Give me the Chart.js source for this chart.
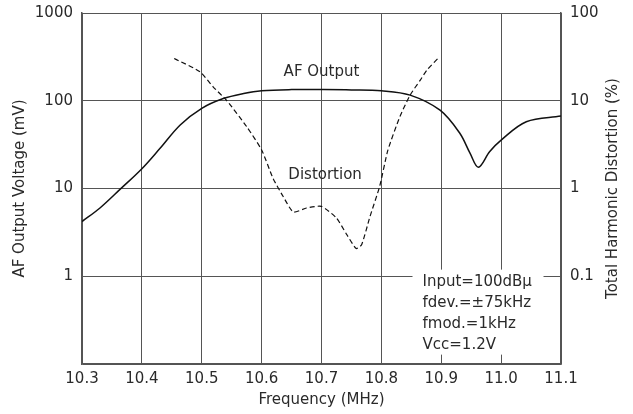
<!DOCTYPE html>
<html>
<head>
<meta charset="utf-8">
<script src="https://cdn.jsdelivr.net/npm/chart.js@4/dist/chart.umd.min.js"></script>
<style>
  html, body { margin: 0; padding: 0; background: #fff; }
  #wrap { width: 633px; height: 414px; }
</style>
</head>
<body>
<div id="wrap"><canvas id="chart" width="633" height="414"></canvas></div>
<script>
// AF output voltage (mV), left axis
const afFreq    = [10.30, 10.33, 10.363, 10.40, 10.43, 10.464, 10.50, 10.536, 10.57, 10.60, 10.65, 10.70, 10.75, 10.80, 10.848, 10.898, 10.931, 10.948, 10.962, 10.981, 11.00, 11.042, 11.10];
const afVoltage = [4.2,   6.0,   9.7,    16.8,  28.5,  53,     82,    106,    121,   130,   134,   134,   133,   130,   116,    78,     42.6,   25.3,   17.5,   26.4,   35.6,  57.7,   66.9];

// total harmonic distortion (%), right axis
const thdFreq    = [10.454, 10.497, 10.519, 10.542, 10.575, 10.600, 10.619, 10.636, 10.653, 10.675, 10.700, 10.725, 10.742, 10.758, 10.767, 10.781, 10.797, 10.811, 10.831, 10.848, 10.865, 10.876, 10.896];
const thdPercent = [30.3,   21.4,   14.4,   10,     5.07,   2.75,   1.31,   0.81,   0.54,   0.6,    0.625,  0.46,   0.30,   0.207,  0.229,  0.48,   1.05,   2.75,   6.6,    11.6,   17.2,   22.3,   31.1];

// tick values
const freqTicks  = [10.3, 10.4, 10.5, 10.6, 10.7, 10.8, 10.9, 11.0, 11.1];
const voltTicks  = [0.1, 1, 10, 100, 1000];
const voltLabels = ['', '1', '10', '100', '1000'];
const thdTicks   = [0.01, 0.1, 1, 10, 100];
const thdLabels  = ['', '0.1', '1', '10', '100'];

const conditions = ['Input=100dBμ', 'fdev.=±75kHz', 'fmod.=1kHz', 'Vcc=1.2V'];

const FONT = '"DejaVu Sans", sans-serif';
const TEXT = '#2a2a2a';
const GRID = '#555';

// keep the plot box where the original has it (labels may overhang)
function fixPadding(scale){
    scale.paddingTop = 0;
    scale.paddingBottom = 0;
}

// extra texts: curve labels, condition box, axis titles
const notesPlugin = {
    id: 'notes',
    afterDraw(chart){
        const ctx = chart.ctx;
        const area = chart.chartArea;
        const x = chart.scales.x;
        const yl = chart.scales.yl;
        ctx.save();
        ctx.fillStyle = TEXT;
        ctx.font = '15px ' + FONT;
        ctx.textAlign = 'center';
        ctx.textBaseline = 'middle';
        ctx.fillText('AF Output', x.getPixelForValue(10.700), yl.getPixelForValue(214));
        ctx.fillText('Distortion', x.getPixelForValue(10.706), yl.getPixelForValue(14.3));
        ctx.fillText('Frequency (MHz)', (area.left + area.right) / 2, 400);

        // condition box (white, hides grid lines)
        const bx = x.getPixelForValue(10.852);
        const by = yl.getPixelForValue(1.19);
        ctx.fillStyle = '#fff';
        ctx.fillRect(bx, by, 131, 85);
        ctx.fillStyle = TEXT;
        ctx.textAlign = 'left';
        conditions.forEach((line, i) => {
            ctx.fillText(line, bx + 10, by + 12 + i * 21);
        });

        // both y titles read bottom to top
        const midY = (area.top + area.bottom) / 2;
        ctx.textAlign = 'center';
        [[20, 'AF Output Voltage (mV)'], [613, 'Total Harmonic Distortion (%)']].forEach(([tx, t]) => {
            ctx.save();
            ctx.translate(tx, midY);
            ctx.rotate(-Math.PI / 2);
            ctx.fillText(t, 0, 0);
            ctx.restore();
        });
        ctx.restore();
    }
};

new Chart(document.getElementById('chart'), {
    type: 'line',
    data: {
        datasets: [{
            label: 'AF Output',
            data: afFreq.map((f, i) => ({ x: f, y: afVoltage[i] })),
            yAxisID: 'yl',
            borderColor: '#111',
            borderWidth: 1.5,
            pointRadius: 0,
            tension: 0.35,
            fill: false
        }, {
            label: 'Distortion',
            data: thdFreq.map((f, i) => ({ x: f, y: thdPercent[i] })),
            yAxisID: 'yr',
            borderColor: '#111',
            borderWidth: 1.2,
            borderDash: [5, 3],
            pointRadius: 0,
            tension: 0.2,
            fill: false
        }]
    },
    options: {
        responsive: false,
        animation: false,
        layout: { padding: { top: 13, left: 0, right: 0, bottom: 0 } },
        plugins: {
            legend: { display: false },
            tooltip: { enabled: false }
        },
        scales: {
            x: {
                type: 'linear',
                min: 10.3,
                max: 11.1,
                afterBuildTicks: (scale) => { scale.ticks = freqTicks.map(v => ({ value: v })); },
                afterFit: (scale) => { scale.height = 50; },
                grid: { color: GRID, lineWidth: 1, drawTicks: false },
                border: { color: GRID, width: 1.5 },
                ticks: {
                    color: TEXT,
                    font: { family: FONT, size: 15 },
                    padding: 6,
                    maxRotation: 0,
                    callback: (v) => v.toFixed(1)
                }
            },
            yl: {
                type: 'logarithmic',
                position: 'left',
                min: 0.1,
                max: 1000,
                afterBuildTicks: (scale) => { scale.ticks = voltTicks.map(v => ({ value: v })); },
                afterFit: (scale) => { scale.width = 82; fixPadding(scale); },
                grid: { color: GRID, lineWidth: 1, drawTicks: false },
                border: { color: GRID, width: 1.5 },
                ticks: {
                    color: TEXT,
                    font: { family: FONT, size: 15 },
                    padding: 9,
                    callback: (v, i) => voltLabels[i]
                }
            },
            yr: {
                type: 'logarithmic',
                position: 'right',
                min: 0.01,
                max: 100,
                afterBuildTicks: (scale) => { scale.ticks = thdTicks.map(v => ({ value: v })); },
                afterFit: (scale) => { scale.width = 72; fixPadding(scale); },
                grid: { display: false, drawTicks: false },
                border: { color: GRID, width: 1.5 },
                ticks: {
                    color: TEXT,
                    font: { family: FONT, size: 15 },
                    padding: 9,
                    callback: (v, i) => thdLabels[i]
                }
            }
        }
    },
    plugins: [notesPlugin]
});
</script>
</body>
</html>
